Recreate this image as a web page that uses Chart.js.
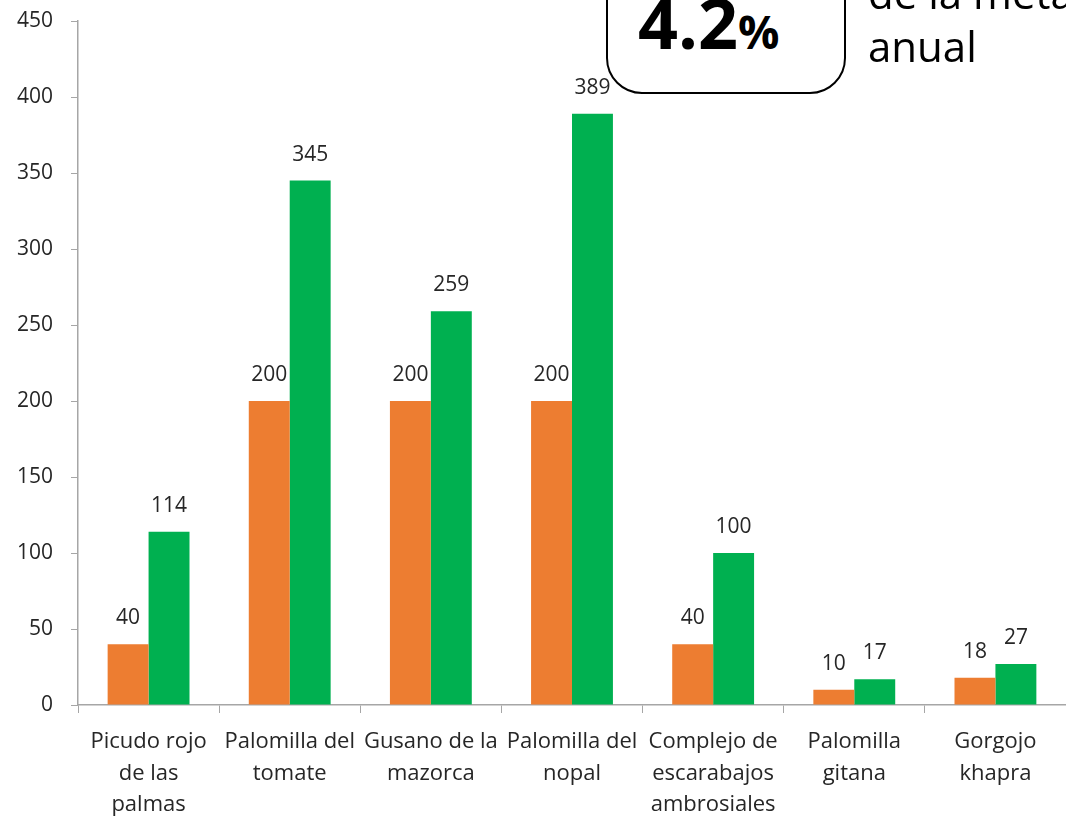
<!DOCTYPE html>
<html>
<head>
<meta charset="utf-8">
<script src="https://cdn.jsdelivr.net/npm/chart.js@4"></script>
<style>
    html, body { margin: 0; padding: 0; background: #fff; overflow: hidden; }
    #wrap { position: relative; width: 1066px; height: 820px; }
    #box {
        position: absolute; left: 606px; top: -40px; width: 236px; height: 130px;
        border: 2px solid #000; border-radius: 36px; background: #fff;
        font-family: 'Open Sans', sans-serif; font-weight: bold; color: #000;
        text-align: center; line-height: 1;
    }
    #box .big { position: absolute; left: 30px; top: 25px; font-size: 70px; }
    #box .pct { font-size: 46px; }
    #meta {
        position: absolute; left: 868px; top: -34px; white-space: nowrap;
        font-family: 'Open Sans', sans-serif; font-size: 42px; line-height: 53px; color: #000;
    }
</style>
</head>
<body>
<div id="wrap">
    <canvas id="chart" width="1066" height="820"></canvas>
    <div id="box"><span class="big">4.2<span class="pct">%</span></span></div>
    <div id="meta">de la meta<br>anual</div>
</div>
<script>
(function plagas () {
    'use strict';

    var categories = [
        ['Picudo rojo', 'de las', 'palmas'],
        ['Palomilla del', 'tomate'],
        ['Gusano de la', 'mazorca'],
        ['Palomilla del', 'nopal'],
        ['Complejo de', 'escarabajos', 'ambrosiales'],
        ['Palomilla', 'gitana'],
        ['Gorgojo', 'khapra']
    ];
    var meta = [40, 200, 200, 200, 40, 10, 18];
    var logro = [114, 345, 259, 389, 100, 17, 27];
    var yTicks = [0, 50, 100, 150, 200, 250, 300, 350, 400, 450];

    var axisColor = '#a6a6a6';
    var textColor = '#262626';

    var valueLabels = {
        id: 'valueLabels',
        afterDatasetsDraw: function drawLabels (chart) {
            var ctx = chart.ctx;
            ctx.save();
            ctx.font = '21px "Open Sans"';
            ctx.fillStyle = textColor;
            ctx.textAlign = 'center';
            ctx.textBaseline = 'middle';
            chart.data.datasets.forEach(function eachSet (ds, i) {
                chart.getDatasetMeta(i).data.forEach(function eachBar (bar, j) {
                    ctx.fillText(String(ds.data[j]), bar.x, bar.y - 26);
                });
            });
            ctx.restore();
        }
    };

    new Chart(document.getElementById('chart').getContext('2d'), {
        type: 'bar',
        data: {
            labels: categories,
            datasets: [{
                label: 'Meta',
                data: meta,
                backgroundColor: '#ED7D31'
            }, {
                label: 'Logro',
                data: logro,
                backgroundColor: '#00B050'
            }]
        },
        options: {
            responsive: false,
            animation: false,
            layout: { padding: { top: 21, right: 0, left: 0, bottom: 0 } },
            categoryPercentage: 0.58,
            barPercentage: 1,
            plugins: {
                legend: { display: false },
                tooltip: { enabled: false }
            },
            scales: {
                x: {
                    grid: { drawOnChartArea: false, drawTicks: true, tickLength: 8, color: axisColor },
                    border: { color: axisColor, width: 1.5 },
                    ticks: { color: textColor, font: { family: 'Open Sans', size: 22, lineHeight: 1.44 }, padding: 13, maxRotation: 0, autoSkip: false },
                    afterFit: function fitX (scale) { scale.height = 115; }
                },
                y: {
                    min: 0,
                    max: 450,
                    afterBuildTicks: function setTicks (scale) {
                        scale.ticks = yTicks.map(function toTick (v) { return { value: v }; });
                    },
                    grid: { drawOnChartArea: false, drawTicks: true, tickLength: 7, color: axisColor },
                    border: { color: axisColor, width: 1.5 },
                    ticks: { color: textColor, font: { family: 'Open Sans', size: 21 }, padding: 18 },
                    afterFit: function fitY (scale) {
                        scale.width = 78;
                        scale.paddingTop = 0;
                        scale.paddingBottom = 0;
                    }
                }
            }
        },
        plugins: [valueLabels]
    });
}());
</script>
</body>
</html>
